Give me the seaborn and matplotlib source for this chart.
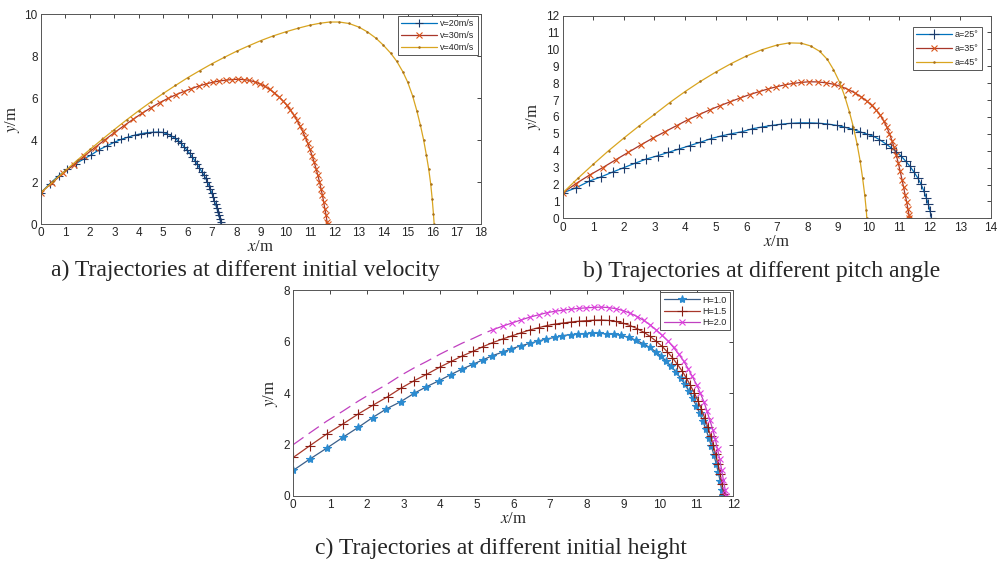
import matplotlib
matplotlib.use("Agg")
import matplotlib.pyplot as plt
import seaborn as sns

sns.set_style("white")
plt.rcParams['font.family'] = ['Liberation Serif', 'DejaVu Serif']
plt.rcParams['mathtext.fontset'] = 'stix'

# ---------- a) different initial velocity ----------
a_v20_x = [0, 0.36, 0.72, 1.07, 1.41, 1.74, 2.06, 2.38, 2.69, 2.99, 3.28, 3.56, 3.83, 4.09, 4.34, 4.57,
           4.79, 4.98, 5.15, 5.31, 5.46, 5.60, 5.73, 5.85, 5.97, 6.08, 6.19, 6.29, 6.39, 6.48, 6.57,
           6.65, 6.73, 6.80, 6.87, 6.93, 6.99, 7.04, 7.09, 7.14, 7.19, 7.23, 7.27, 7.31, 7.35, 7.37]
a_v20_y = [1.50, 1.92, 2.30, 2.60, 2.87, 3.09, 3.30, 3.54, 3.72, 3.89, 4.03, 4.14, 4.23, 4.30, 4.35, 4.37,
           4.38, 4.36, 4.30, 4.21, 4.10, 3.97, 3.84, 3.68, 3.52, 3.36, 3.19, 3.02, 2.84, 2.67, 2.50,
           2.35, 2.18, 2.01, 1.83, 1.65, 1.46, 1.28, 1.10, 0.93, 0.75, 0.58, 0.41, 0.25, 0.08, 0.0]

a_v30_x = [0, 0.45, 0.90, 1.34, 1.77, 2.19, 2.60, 3.00, 3.39, 3.77, 4.14, 4.50, 4.85, 5.19, 5.52, 5.84,
           6.15, 6.45, 6.74, 7.02, 7.29, 7.55, 7.80, 8.05, 8.29, 8.52, 8.74, 8.95, 9.15, 9.35, 9.54,
           9.72, 9.89, 10.05, 10.20, 10.34, 10.47, 10.59, 10.70, 10.81, 10.91, 11.00, 11.09, 11.17,
           11.25, 11.32, 11.39, 11.45, 11.51, 11.56, 11.61, 11.66, 11.70, 11.72]
a_v30_y = [1.50, 1.96, 2.41, 2.83, 3.24, 3.63, 4.00, 4.35, 4.68, 4.99, 5.28, 5.54, 5.78, 5.98, 6.16, 6.31,
           6.45, 6.57, 6.67, 6.75, 6.81, 6.85, 6.88, 6.89, 6.88, 6.84, 6.77, 6.68, 6.56, 6.41, 6.25,
           6.07, 5.87, 5.66, 5.43, 5.19, 4.94, 4.68, 4.41, 4.13, 3.84, 3.55, 3.25, 2.95,
           2.64, 2.33, 2.01, 1.69, 1.37, 1.05, 0.73, 0.41, 0.09, 0.0]

a_v40_x = [0, 0.5, 1.0, 1.5, 2.0, 2.5, 3.0, 3.5, 4.0, 4.5, 5.0, 5.5, 6.0, 6.5, 7.0, 7.5, 8.0, 8.5,
           9.0, 9.5, 10.0, 10.5, 11.0, 11.4, 11.8, 12.2, 12.6, 13.0, 13.35, 13.7, 14.0, 14.3, 14.55,
           14.8, 15.0, 15.2, 15.37, 15.52, 15.65, 15.76, 15.86, 15.94, 16.0, 16.05, 16.08]
a_v40_y = [1.50, 2.03, 2.55, 3.06, 3.55, 4.03, 4.50, 4.96, 5.40, 5.82, 6.22, 6.60, 6.97, 7.31, 7.64, 7.94,
           8.23, 8.49, 8.74, 8.96, 9.15, 9.32, 9.47, 9.56, 9.62, 9.62, 9.55, 9.38, 9.15, 8.85, 8.52,
           8.14, 7.75, 7.25, 6.75, 6.10, 5.40, 4.70, 4.00, 3.30, 2.60, 1.90, 1.20, 0.50, 0.0]

# ---------- b) different pitch angle ----------
b_a25_x = [0, 0.43, 0.87, 1.25, 1.65, 2.0, 2.35, 2.72, 3.1, 3.45, 3.8, 4.15, 4.5, 4.85, 5.2, 5.5, 5.85,
           6.2, 6.5, 6.85, 7.15, 7.45, 7.75, 8.05, 8.35, 8.65, 8.95, 9.2, 9.45, 9.7, 9.93, 10.15, 10.35,
           10.55, 10.73, 10.9, 11.06, 11.21, 11.35, 11.48, 11.6, 11.71, 11.8, 11.88, 11.95, 12.01, 12.05]
b_a25_y = [1.5, 1.8, 2.2, 2.45, 2.75, 3.0, 3.25, 3.5, 3.7, 3.9, 4.1, 4.3, 4.5, 4.72, 4.88, 5.0, 5.12,
           5.3, 5.4, 5.5, 5.57, 5.62, 5.65, 5.65, 5.63, 5.58, 5.5, 5.4, 5.28, 5.13, 4.99, 4.86, 4.66,
           4.42, 4.18, 3.94, 3.68, 3.38, 3.07, 2.74, 2.4, 2.02, 1.63, 1.23, 0.82, 0.41, 0.0]

b_a35_x = [0, 0.44, 0.88, 1.31, 1.73, 2.15, 2.56, 2.96, 3.35, 3.73, 4.1, 4.46, 4.81, 5.15, 5.48, 5.8,
           6.11, 6.41, 6.7, 6.98, 7.26, 7.53, 7.79, 8.05, 8.33, 8.6, 8.86, 9.1, 9.33, 9.55, 9.75, 9.93,
           10.1, 10.24, 10.37, 10.49, 10.59, 10.68, 10.76, 10.83, 10.9, 10.97, 11.03, 11.09, 11.14,
           11.19, 11.24, 11.28, 11.32, 11.33]
b_a35_y = [1.5, 2.06, 2.56, 3.0, 3.46, 3.91, 4.35, 4.76, 5.13, 5.49, 5.84, 6.14, 6.42, 6.67, 6.9, 7.12,
           7.32, 7.49, 7.65, 7.78, 7.9, 7.98, 8.04, 8.08, 8.07, 8.02, 7.93, 7.8, 7.62, 7.42, 7.19, 6.95,
           6.68, 6.42, 6.12, 5.77, 5.42, 5.0, 4.6, 4.2, 3.75, 3.25, 2.78, 2.28, 1.85,
           1.4, 0.98, 0.58, 0.18, 0.0]

b_a45_x = [0, 0.5, 1.0, 1.5, 2.0, 2.5, 3.0, 3.5, 4.0, 4.5, 5.0, 5.5, 6.0, 6.5, 7.0, 7.4, 7.8, 8.1,
           8.4, 8.65, 8.85, 9.05, 9.22, 9.37, 9.5, 9.62, 9.72, 9.8, 9.87, 9.92, 9.94]
b_a45_y = [1.5, 2.37, 3.2, 4.0, 4.75, 5.47, 6.15, 6.85, 7.5, 8.1, 8.65, 9.15, 9.6, 9.97, 10.25, 10.38,
           10.36, 10.2, 9.88, 9.4, 8.8, 8.05, 7.2, 6.3, 5.4, 4.4, 3.4, 2.4, 1.4, 0.5, 0.0]

# ---------- c) different initial height ----------
c_h10_x = [0, 0.455, 0.91, 1.35, 1.77, 2.16, 2.54, 2.93, 3.30, 3.63, 3.98, 4.29, 4.59, 4.89, 5.16, 5.43,
           5.71, 5.95, 6.20, 6.45, 6.68, 6.90, 7.13, 7.34, 7.56, 7.77, 7.95, 8.15, 8.35, 8.55, 8.75,
           8.95, 9.15, 9.35, 9.55, 9.72, 9.88, 10.03, 10.17, 10.31, 10.44, 10.56, 10.68, 10.79, 10.89,
           10.99, 11.08, 11.17, 11.25, 11.33, 11.40, 11.47, 11.53, 11.59, 11.64, 11.68, 11.71]
c_h10_y = [1.0, 1.44, 1.86, 2.28, 2.67, 3.05, 3.39, 3.67, 4.0, 4.25, 4.49, 4.72, 4.93, 5.12, 5.29, 5.46,
           5.60, 5.73, 5.84, 5.94, 6.03, 6.11, 6.17, 6.24, 6.28, 6.30, 6.32, 6.33, 6.33, 6.31, 6.29,
           6.25, 6.17, 6.06, 5.92, 5.78, 5.62, 5.44, 5.25, 5.04, 4.82, 4.59, 4.34, 4.08, 3.80,
           3.51, 3.22, 2.91, 2.60, 2.27, 1.94, 1.60, 1.26, 0.92, 0.58, 0.24, 0.0]

c_h15_x = [0, 0.455, 0.91, 1.35, 1.77, 2.18, 2.57, 2.93, 3.30, 3.63, 3.99, 4.31, 4.61, 4.90, 5.17, 5.44,
           5.71, 5.96, 6.21, 6.45, 6.69, 6.91, 7.14, 7.35, 7.57, 7.78, 7.98, 8.20, 8.40, 8.60, 8.80,
           9.00, 9.19, 9.38, 9.56, 9.73, 9.89, 10.05, 10.20, 10.34, 10.47, 10.60, 10.72, 10.83, 10.94,
           11.04, 11.13, 11.22, 11.30, 11.38, 11.45, 11.52, 11.58, 11.64, 11.69, 11.74, 11.76]
c_h15_y = [1.5, 1.96, 2.41, 2.80, 3.19, 3.54, 3.86, 4.19, 4.49, 4.73, 5.01, 5.24, 5.45, 5.63, 5.81, 5.97,
           6.11, 6.23, 6.35, 6.46, 6.55, 6.63, 6.69, 6.73, 6.77, 6.80, 6.82, 6.84, 6.85, 6.83, 6.79,
           6.72, 6.63, 6.51, 6.37, 6.21, 6.03, 5.83, 5.61, 5.38, 5.13, 4.87, 4.59, 4.30, 4.00,
           3.69, 3.37, 3.04, 2.70, 2.35, 1.99, 1.62, 1.24, 0.86, 0.47, 0.08, 0.0]

c_h20_x = [0, 0.455, 0.91, 1.35, 1.77, 2.18, 2.57, 2.93, 3.30, 3.63, 3.99, 4.31, 4.61, 4.90, 5.17, 5.44,
           5.71, 5.96, 6.21, 6.45, 6.69, 6.91, 7.14, 7.35, 7.57, 7.78, 7.98, 8.20, 8.40, 8.60, 8.80,
           9.00, 9.19, 9.38, 9.56, 9.73, 9.89, 10.05, 10.22, 10.37, 10.51, 10.65, 10.77, 10.88, 11.0,
           11.1, 11.2, 11.28, 11.36, 11.44, 11.51, 11.57, 11.63, 11.68, 11.73, 11.78, 11.81]
c_h20_y = [2.0, 2.46, 2.91, 3.30, 3.69, 4.04, 4.36, 4.69, 4.99, 5.23, 5.51, 5.74, 5.95, 6.13, 6.31, 6.47,
           6.61, 6.73, 6.85, 6.96, 7.05, 7.13, 7.19, 7.23, 7.27, 7.30, 7.32, 7.34, 7.35, 7.33, 7.29,
           7.21, 7.11, 6.98, 6.83, 6.66, 6.47, 6.26, 6.03, 5.78, 5.52, 5.24, 4.95, 4.65, 4.33,
           4.00, 3.66, 3.31, 2.95, 2.58, 2.20, 1.81, 1.42, 1.02, 0.62, 0.22, 0.0]

labels_a = ['v=20m/s', 'v=30m/s', 'v=40m/s']
labels_b = ['a=25°', 'a=35°', 'a=45°']
labels_c = ['H=1.0', 'H=1.5', 'H=2.0']

fig = plt.figure(figsize=(10.01, 5.64), dpi=100)
ax_a = fig.add_axes([0.041, 0.6028, 0.4396, 0.3723])
ax_b = fig.add_axes([0.5621, 0.6129, 0.428, 0.3596])
ax_c = fig.add_axes([0.293, 0.1206, 0.4396, 0.3645])


def draw(ax, x, y, label, color, marker, mcolor, ms, ls='-'):
    sns.lineplot(x=x, y=y, ax=ax, sort=False, estimator=None, color=color, linewidth=0.9,
                 linestyle=ls, marker=marker, markersize=ms, markeredgecolor=mcolor,
                 markerfacecolor=mcolor, markeredgewidth=0.8, label=label)


draw(ax_a, a_v20_x, a_v20_y, labels_a[0], '#0072BD', '+', '#1d3b6b', 6)
draw(ax_a, a_v30_x, a_v30_y, labels_a[1], '#A8372A', 'x', '#D95319', 4.5)
draw(ax_a, a_v40_x, a_v40_y, labels_a[2], '#D9A520', '.', '#A8701A', 2)

draw(ax_b, b_a25_x, b_a25_y, labels_b[0], '#0072BD', '+', '#1d3b6b', 7)
draw(ax_b, b_a35_x, b_a35_y, labels_b[1], '#A8372A', 'x', '#D95319', 4.5)
draw(ax_b, b_a45_x, b_a45_y, labels_b[2], '#D9A520', '.', '#A8701A', 2)

draw(ax_c, c_h10_x, c_h10_y, labels_c[0], '#3a5f8a', '*', '#2b8bd0', 6)
draw(ax_c, c_h15_x, c_h15_y, labels_c[1], '#A8372A', '+', '#8a1e14', 7)
# the ascending part of H=2.0 shows up broken in the source, no markers
draw(ax_c, c_h20_x[:16], c_h20_y[:16], None, '#C040C0', None, '#C040C0', 0, ls=(0, (10, 5)))
draw(ax_c, c_h20_x[15:], c_h20_y[15:], labels_c[2], '#C040C0', 'x', '#E040E0', 4.5)

setups = [
    (ax_a, 18, 10, range(0, 19), range(0, 11, 2), (0.992, 0.99), 0.3),
    (ax_b, 14, 12, range(0, 15), range(0, 13), (0.978, 0.945), 0.55),
    (ax_c, 12, 8, range(0, 13), range(0, 9, 2), (0.992, 0.99), 0.25),
]
for ax, xm, ym, xt, yt, anchor, spacing in setups:
    ax.set_xlim(0, xm)
    ax.set_ylim(0, ym)
    ax.set_xticks(list(xt))
    ax.set_yticks(list(yt))
    ax.tick_params(direction='in', top=True, right=True, length=3, width=0.6, pad=2.5,
                   labelsize=8.5, labelfontfamily='Liberation Sans', colors='#262626')
    for s in ax.spines.values():
        s.set_linewidth(0.7)
        s.set_color('#555555')
    ax.set_xlabel(r'$x$/m', fontsize=12, labelpad=0)
    ax.set_ylabel(r'$y$/m', fontsize=12, labelpad=2)
    leg = ax.legend(loc='upper right', bbox_to_anchor=anchor, borderaxespad=0,
                    handlelength=4, handletextpad=0.3, labelspacing=spacing, borderpad=0.35,
                    fancybox=False, framealpha=1, edgecolor='#555555',
                    prop={'family': 'Liberation Sans', 'size': 6.5})
    leg.get_frame().set_linewidth(0.7)

fig.text(0.245, 0.521, 'a) Trajectories at different initial velocity', ha='center', va='center', fontsize=17)
fig.text(0.761, 0.519, 'b) Trajectories at different pitch angle', ha='center', va='center', fontsize=17)
fig.text(0.5, 0.027, 'c) Trajectories at different initial height', ha='center', va='center', fontsize=17)

fig.savefig('out.png', dpi=100, facecolor='white')
